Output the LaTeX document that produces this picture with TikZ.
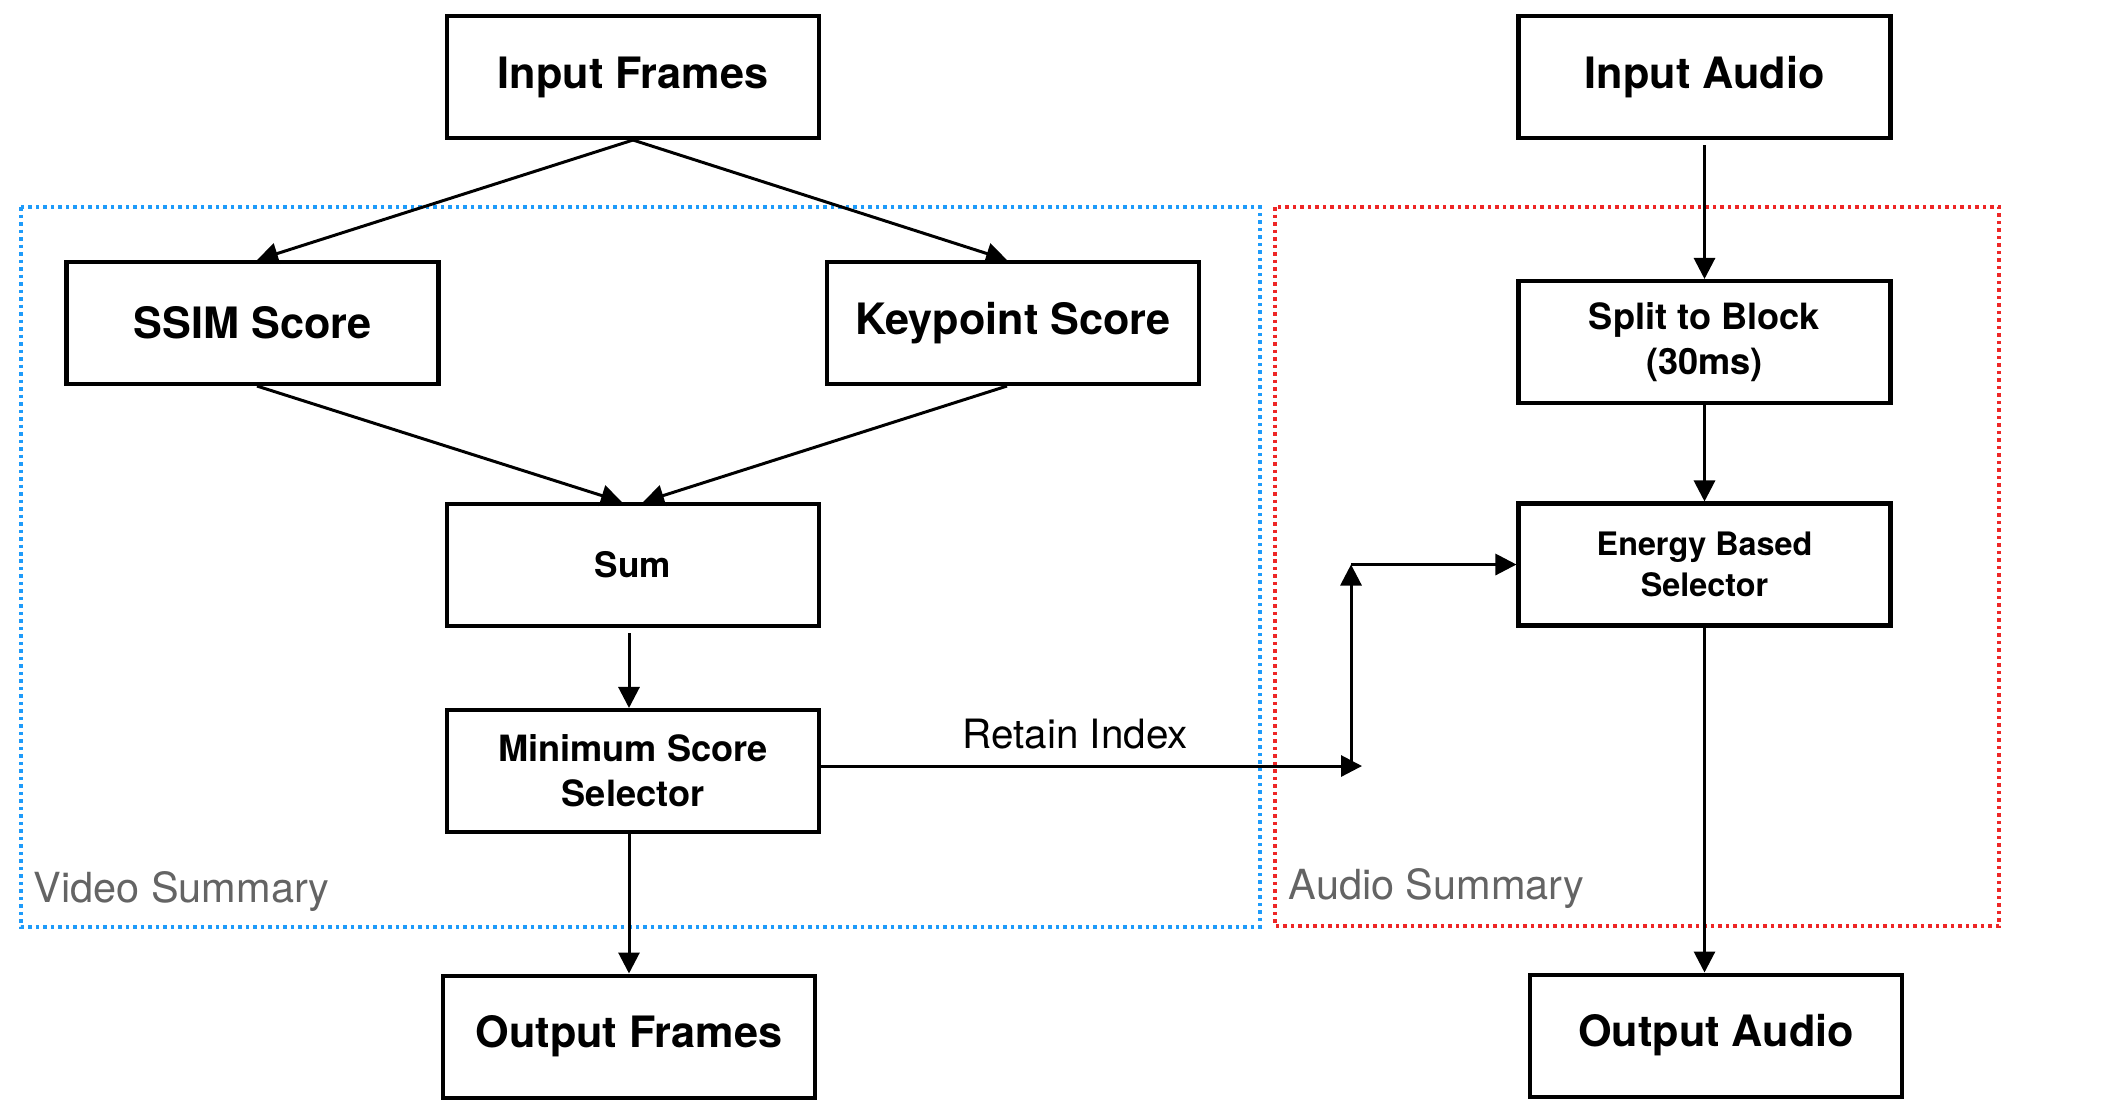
\documentclass[tikz,border=0pt]{standalone}
\usepackage{fontspec}
\setmainfont{TeX Gyre Heros}
\usetikzlibrary{positioning,arrows.meta}

\definecolor{vidblue}{RGB}{30,155,250}
\definecolor{audred}{RGB}{238,38,38}
\definecolor{lblgray}{RGB}{100,100,100}

\tikzset{
    blk/.style={draw, line width=1.15pt, minimum width=3.72cm, minimum height=1.22cm, align=center, inner sep=0pt},
    bigtxt/.style={font=\fontsize{12.3}{14}\selectfont\bfseries},
    midtxt/.style={font=\fontsize{10.3}{12.7}\selectfont\bfseries},
    smalltxt/.style={font=\fontsize{9.2}{11.7}\selectfont\bfseries},
    sumtxt/.style={font=\fontsize{10}{12}\selectfont\bfseries},
    arr/.style={-{Triangle[length=0.21cm,width=0.21cm]}, line width=0.85pt},
    grp/.style={line width=1pt, dash pattern=on 0.035cm off 0.04cm},
    grplbl/.style={text=lblgray, font=\fontsize{11.8}{14}\selectfont, anchor=base west, inner sep=0pt},
}

\begin{document}
\begin{tikzpicture}[node distance=2cm]
    \useasboundingbox (0,0) rectangle (21.18,-11.10);

    % summary frames
    \draw[grp, vidblue] (0.21,-2.07) rectangle (12.60,-9.27);
    \draw[grp, audred] (12.75,-2.07) rectangle (19.99,-9.26);
    \node[grplbl] (vidlbl) at (0.33,-9.02) {Video Summary};
    \node[grplbl] (audlbl) at (12.88,-8.99) {Audio Summary};

    % video side
    \node[blk, bigtxt] (frames) at (6.33,-0.77) {Input Frames};
    \node[blk, bigtxt, below of=frames, node distance=2.46cm, xshift=-3.805cm] (ssim) {SSIM Score};
    \node[blk, bigtxt, below of=frames, node distance=2.46cm, xshift=3.80cm] (kpt) {Keypoint Score};
    \node[blk, sumtxt, below of=frames, node distance=4.88cm] (sum) {Sum};
    \node[blk, midtxt, below of=sum, node distance=2.06cm] (minsel) {Minimum Score\\Selector};
    \node[blk, bigtxt, below of=minsel, node distance=2.655cm, xshift=-0.04cm] (outframes) {Output Frames};

    % audio side
    \node[blk, bigtxt, right of=frames, node distance=10.715cm] (audio) {Input Audio};
    \node[blk, midtxt, below of=audio, node distance=2.65cm] (split) {Split to Block\\(30ms)};
    \node[blk, smalltxt, below of=split, node distance=2.225cm] (energy) {Energy Based\\Selector};
    \node[blk, bigtxt, below of=energy, node distance=4.71cm, xshift=0.115cm] (outaudio) {Output Audio};

    \coordinate[right=5.41cm of minsel, yshift=0.05cm] (ritip);
    \coordinate[right=5.30cm of minsel, yshift=0.05cm] (rbend);
    \coordinate (rcorner) at (rbend |- energy.west);

    \draw[arr] (frames.south) -- ([xshift=0.045cm]ssim.north);
    \draw[arr] (frames.south) -- ([xshift=-0.06cm]kpt.north);
    \draw[arr] ([xshift=0.045cm]ssim.south) -- ([xshift=-0.11cm]sum.north);
    \draw[arr] ([xshift=-0.06cm]kpt.south) -- ([xshift=0.10cm]sum.north);
    \draw[arr] ([xshift=-0.04cm, yshift=-0.05cm]sum.south) -- ([xshift=-0.04cm]minsel.north);
    \draw[arr] ([xshift=-0.04cm]minsel.south) -- (outframes.north);

    \draw[arr] ([yshift=-0.05cm]audio.south) -- (split.north);
    \draw[arr] (split.south) -- (energy.north);
    \draw[arr] (energy.south) -- (energy.south |- outaudio.north);

    \draw[arr] ([yshift=0.05cm]minsel.east) -- node[pos=0.47, above=0.15cm, inner sep=0pt, font=\fontsize{11.5}{14}\selectfont] (retain) {Retain Index} (ritip);
    \draw[arr] (rbend) -- (rcorner);
    \draw[arr] (rcorner) -- (energy.west);
\end{tikzpicture}
\end{document}
